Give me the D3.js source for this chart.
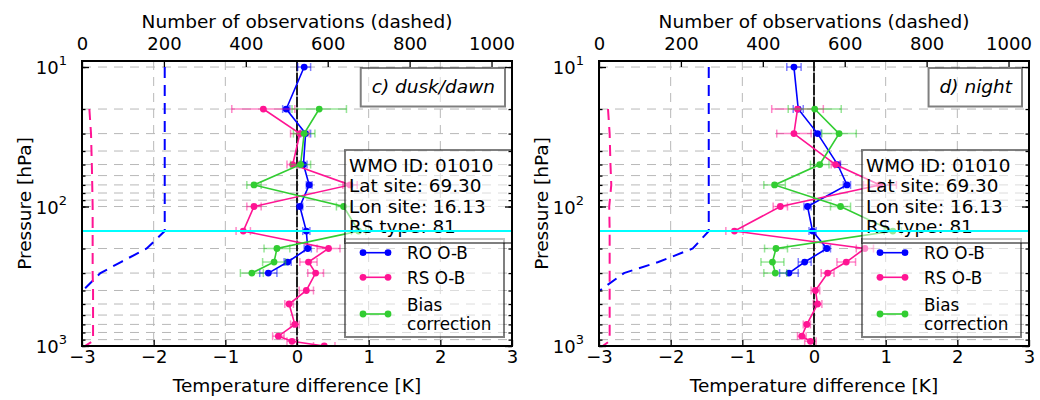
<!DOCTYPE html>
<html>
<head>
<meta charset="utf-8">
<script src="https://cdn.jsdelivr.net/npm/d3@7"></script>
<style>
  body { margin: 0; background: #fff; }
  svg { font-family: "DejaVu Sans", sans-serif; }
</style>
</head>
<body>
<div id="graphic"></div>
<script>
// pressure levels (hPa) for each series
const roLevels = [10, 20, 30, 50, 70, 100, 150, 200, 250, 300];
const rsLevels = [20, 30, 50, 70, 100, 150, 200, 250, 300, 400, 500, 700, 850, 925, 1000];
const biasLevels = [20, 30, 50, 70, 100, 150, 200, 250, 300];
const roCountLevels = [10, 20, 30, 50, 70, 100, 150, 200, 250, 300, 400];

// c) dusk/dawn
const duskRo = [0.10, -0.15, 0.12, 0.09, 0.17, 0.04, 0.13, 0.15, -0.13, -0.40];
const duskRoErr = [0.09, 0.05, 0.07, 0.05, 0.04, 0.04, 0.05, 0.05, 0.05, 0.12];
const duskRs = [-0.47, 0.04, -0.06, 0.74, -0.60, -0.75, 0.44, 0.16, 0.26, 0.13, -0.11, -0.03, -0.26, -0.07, 0.38];
const duskRsErr = [0.44, 0.13, 0.08, 0.10, 0.10, 0.10, 0.16, 0.12, 0.11, 0.10, 0.06, 0.06, 0.08, 0.07, 0.15];
const duskBias = [0.31, 0.10, 0.05, -0.60, 0.65, 0.86, -0.28, -0.32, -0.63];
const duskBiasErr = [0.38, 0.15, 0.14, 0.10, 0.10, 0.10, 0.18, 0.16, 0.16];
const duskRoCount = [202, 202, 202, 202, 202, 202, 202, 158, 95, 45, 2];
const duskRsCount = [18, 22, 24, 25, 26, 26, 26, 26, 26, 27, 27, 27, 27, 26, 7];

// d) night
const nightRo = [-0.28, -0.22, 0.05, 0.33, 0.46, -0.09, -0.02, 0.18, -0.13, -0.35];
const nightRoErr = [0.10, 0.07, 0.05, 0.04, 0.05, 0.05, 0.05, 0.05, 0.09, 0.13];
const nightRs = [-0.23, -0.28, 0.30, 0.92, -0.47, -1.11, 0.71, 0.45, 0.19, 0.02, 0.05, -0.10, -0.17, -0.05];
const nightRsErr = [0.36, 0.24, 0.06, 0.23, 0.10, 0.12, 0.12, 0.13, 0.09, 0.06, 0.06, 0.05, 0.06, 0.08];
const nightBias = [0.01, 0.35, 0.08, -0.55, 0.37, 1.10, -0.53, -0.58, -0.54];
const nightBiasErr = [0.37, 0.24, 0.13, 0.15, 0.14, 0.12, 0.16, 0.16, 0.16];
const nightRoCount = [268, 268, 268, 268, 268, 268, 268, 229, 145, 61, 2];
const nightRsCount = [22, 26, 28, 30, 25, 26, 26, 26, 26, 26, 26, 26, 26, 25, 9];

const tropopause = 150;
const tempTicks = [-3, -2, -1, 0, 1, 2, 3];
const countTicks = [0, 200, 400, 600, 800, 1000];
const pressureMajor = [10, 100, 1000];
const panelTitles = ['c) dusk/dawn', 'd) night'];
const siteInfo = ['WMO ID: 01010', 'Lat site: 69.30', 'Lon site: 16.13', 'RS type: 81'];
const legendLabels = [['RO O-B'], ['RS O-B'], ['Bias', 'correction']];
const colors = ['#0000ff', '#ff1493', '#32cd32'];

function zipSeries(levels, vals, errs) {
  return vals.map((v, i) => ({ p: levels[i], v: v, e: errs ? errs[i] : 0 }));
}

const panels = [
  {
    title: panelTitles[0],
    series: [
      zipSeries(roLevels, duskRo, duskRoErr),
      zipSeries(rsLevels, duskRs, duskRsErr),
      zipSeries(biasLevels, duskBias, duskBiasErr)
    ],
    counts: [
      zipSeries(roCountLevels, duskRoCount),
      zipSeries(rsLevels, duskRsCount)
    ]
  },
  {
    title: panelTitles[1],
    series: [
      zipSeries(roLevels, nightRo, nightRoErr),
      zipSeries(rsLevels, nightRs, nightRsErr),
      zipSeries(biasLevels, nightBias, nightBiasErr)
    ],
    counts: [
      zipSeries(roCountLevels, nightRoCount),
      zipSeries(rsLevels, nightRsCount)
    ]
  }
];

const panelLefts = [82, 599];
const plotTop = 61, plotW = 430, plotH = 285;

const x = d3.scaleLinear().domain([-3, 3]).range([0, plotW]);
const xCount = d3.scaleLinear().domain([0, 1050]).range([0, plotW]);
const y = d3.scaleLog().domain([9.05, 1000]).range([0, plotH]);

const svg = d3.select('#graphic').append('svg')
  .attr('width', 1040).attr('height', 400);

panels.forEach((pnl, i) => {
  const g = svg.append('g').attr('transform', `translate(${panelLefts[i]},${plotTop})`);
  const clipId = 'clip' + i;
  g.append('clipPath').attr('id', clipId)
    .append('rect').attr('width', plotW).attr('height', plotH);
  const plot = g.append('g').attr('clip-path', `url(#${clipId})`);

  // grid, horizontal at every log tick, vertical at temperature ticks
  plot.selectAll('.hgrid').data(y.ticks()).join('line')
    .attr('x1', 0).attr('x2', plotW)
    .attr('y1', d => y(d)).attr('y2', d => y(d))
    .attr('stroke', '#b8b8b8').attr('stroke-width', 1)
    .attr('stroke-dasharray', '9,7');
  plot.selectAll('.vgrid').data(tempTicks).join('line')
    .attr('x1', d => x(d)).attr('x2', d => x(d))
    .attr('y1', 0).attr('y2', plotH)
    .attr('stroke', '#b8b8b8').attr('stroke-width', 1)
    .attr('stroke-dasharray', '9,7');

  // zero line
  plot.append('line')
    .attr('x1', x(0)).attr('x2', x(0)).attr('y1', 0).attr('y2', plotH)
    .attr('stroke', '#888').attr('stroke-width', 1.6);
  plot.append('line')
    .attr('x1', x(0)).attr('x2', x(0)).attr('y1', 0).attr('y2', plotH)
    .attr('stroke', '#000').attr('stroke-width', 1.6)
    .attr('stroke-dasharray', '10,2');

  // number of observations (dashed)
  const countLine = d3.line().x(d => xCount(d.v)).y(d => y(d.p));
  pnl.counts.forEach((c, k) => {
    plot.append('path').datum(c)
      .attr('d', countLine)
      .attr('fill', 'none')
      .attr('stroke', colors[k]).attr('stroke-width', 2)
      .attr('stroke-dasharray', '11,7');
  });

  // O-B profiles with error bars
  const line = d3.line().x(d => x(d.v)).y(d => y(d.p));
  pnl.series.forEach((s, k) => {
    const sg = plot.append('g');
    const eb = sg.append('g')
      .attr('stroke', colors[k]).attr('stroke-opacity', 0.5).attr('stroke-width', 1.5);
    eb.selectAll('.bar').data(s).join('line')
      .attr('x1', d => x(d.v - d.e)).attr('x2', d => x(d.v + d.e))
      .attr('y1', d => y(d.p)).attr('y2', d => y(d.p));
    eb.selectAll('.capl').data(s).join('line')
      .attr('x1', d => x(d.v - d.e)).attr('x2', d => x(d.v - d.e))
      .attr('y1', d => y(d.p) - 4).attr('y2', d => y(d.p) + 4);
    eb.selectAll('.capr').data(s).join('line')
      .attr('x1', d => x(d.v + d.e)).attr('x2', d => x(d.v + d.e))
      .attr('y1', d => y(d.p) - 4).attr('y2', d => y(d.p) + 4);
    sg.append('path').datum(s)
      .attr('d', line).attr('fill', 'none')
      .attr('stroke', colors[k]).attr('stroke-width', 1.6);
    sg.selectAll('circle').data(s).join('circle')
      .attr('cx', d => x(d.v)).attr('cy', d => y(d.p)).attr('r', 3.4)
      .attr('fill', colors[k]);
  });

  // legend
  const leg = plot.append('g');
  leg.append('rect')
    .attr('x', 263).attr('y', 178).attr('width', 159).attr('height', 98)
    .attr('fill', '#fff').attr('fill-opacity', 0.5)
    .attr('stroke', '#000').attr('stroke-opacity', 0.5).attr('stroke-width', 2);
  const legY = [191.7, 216.3, 253];
  legendLabels.forEach((lab, k) => {
    leg.append('line')
      .attr('x1', 281).attr('x2', 306).attr('y1', legY[k]).attr('y2', legY[k])
      .attr('stroke', colors[k]).attr('stroke-width', 1.6);
    leg.selectAll(null).data([281, 306]).join('circle')
      .attr('cx', d => d).attr('cy', legY[k]).attr('r', 3.4).attr('fill', colors[k]);
    const t = leg.append('text').attr('x', 325)
      .attr('y', legY[k] + 6.3 - (lab.length - 1) * 9.3)
      .attr('font-size', 16.8);
    lab.forEach((l, j) => t.append('tspan').attr('x', 325).attr('dy', j ? 18.7 : 0).text(l));
  });

  // site info box
  const info = plot.append('g');
  info.append('rect')
    .attr('x', 263).attr('y', 89).attr('width', 167).attr('height', 93)
    .attr('fill', '#fff').attr('fill-opacity', 0.5)
    .attr('stroke', '#000').attr('stroke-opacity', 0.5).attr('stroke-width', 2);
  info.selectAll('text').data(siteInfo).join('text')
    .attr('x', 267).attr('y', (d, j) => 110.7 + j * 20.5)
    .attr('font-size', 18.4).text(d => d);

  // title box, right aligned
  const tb = plot.append('g');
  const tbox = tb.append('rect');
  const tt = tb.append('text')
    .attr('y', 32).attr('font-size', 18.5).attr('font-style', 'italic')
    .attr('text-anchor', 'end').attr('x', 413).text(pnl.title);
  const tw = tt.node().getComputedTextLength();
  tbox.attr('x', 413 - tw - 11).attr('y', 7).attr('width', tw + 21).attr('height', 38.5)
    .attr('fill', '#fff').attr('fill-opacity', 0.5)
    .attr('stroke', '#000').attr('stroke-opacity', 0.5).attr('stroke-width', 2);

  // tropopause
  plot.append('line')
    .attr('x1', 0).attr('x2', plotW)
    .attr('y1', y(tropopause)).attr('y2', y(tropopause))
    .attr('stroke', '#00ffff').attr('stroke-width', 2);

  // axes, ticks pointing inward
  const axisStyle = sel => {
    sel.select('.domain').remove();
    sel.selectAll('.tick line').attr('stroke', '#000').attr('stroke-width', 1.3);
    sel.selectAll('.tick text').attr('fill', '#000').attr('font-family', 'DejaVu Sans').attr('font-size', 18);
  };
  g.append('g').attr('transform', `translate(0,${plotH})`)
    .call(d3.axisBottom(x).tickValues(tempTicks).tickFormat(d3.format('d'))
      .tickSizeInner(-6).tickSizeOuter(0).tickPadding(4))
    .call(axisStyle);
  g.append('g')
    .call(d3.axisTop(xCount).tickValues(countTicks).tickFormat(d3.format('d'))
      .tickSizeInner(-6).tickSizeOuter(0).tickPadding(11))
    .call(axisStyle);
  g.append('g')
    .call(d3.axisLeft(y).tickValues(y.ticks()).tickFormat('').tickSizeInner(-3.5).tickSizeOuter(0))
    .call(axisStyle);
  g.append('g')
    .call(d3.axisLeft(y).tickValues(pressureMajor).tickFormat('').tickSizeInner(-7).tickSizeOuter(0))
    .call(axisStyle);
  g.append('g').attr('transform', `translate(${plotW},0)`)
    .call(d3.axisRight(y).tickValues(y.ticks()).tickFormat('').tickSizeInner(-3.5).tickSizeOuter(0))
    .call(axisStyle);
  g.append('g').attr('transform', `translate(${plotW},0)`)
    .call(d3.axisRight(y).tickValues(pressureMajor).tickFormat('').tickSizeInner(-7).tickSizeOuter(0))
    .call(axisStyle);

  // pressure labels as powers of ten
  pressureMajor.forEach(p => {
    const t = g.append('text')
      .attr('x', -15).attr('y', y(p) + 7).attr('text-anchor', 'end')
      .attr('font-size', 18);
    t.append('tspan').text('10');
    t.append('tspan').attr('dy', -9).attr('font-size', 13).text(Math.round(Math.log10(p)));
  });

  // frame
  g.append('rect').attr('width', plotW).attr('height', plotH)
    .attr('fill', 'none').attr('stroke', '#000').attr('stroke-width', 2);

  // axis titles
  g.append('text').attr('x', plotW / 2).attr('y', 392 - plotTop)
    .attr('text-anchor', 'middle').attr('font-size', 18.5)
    .text('Temperature difference [K]');
  g.append('text').attr('x', plotW / 2).attr('y', 28 - plotTop)
    .attr('text-anchor', 'middle').attr('font-size', 18.5)
    .text('Number of observations (dashed)');
  g.append('text')
    .attr('transform', `translate(-51,${plotH / 2}) rotate(-90)`)
    .attr('text-anchor', 'middle').attr('font-size', 18.5)
    .text('Pressure [hPa]');
});
</script>
</body>
</html>
